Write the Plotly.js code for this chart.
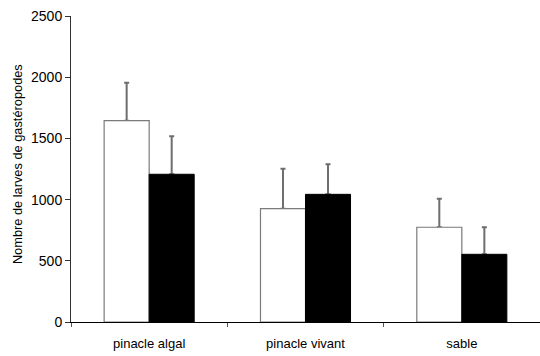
<!DOCTYPE html>
<html>
<head>
<meta charset="utf-8">
<script src="https://cdn.plot.ly/plotly-3.0.1.min.js"></script>
<style>
  html, body { margin: 0; padding: 0; background: #fff; }
  #chart { width: 540px; height: 356px; }
</style>
</head>
<body>
<div id="chart"></div>
<script>
// Habitat categories along the x axis
const habitats = ['pinacle algal', 'pinacle vivant', 'sable'];

// Open bars: mean counts and upper error
const openValues = [1645, 926, 774];
const openErrors = [310, 326, 233];

// Filled bars: mean counts and upper error
const filledValues = [1207, 1043, 553];
const filledErrors = [310, 245, 221];

const yTicks = [0, 500, 1000, 1500, 2000, 2500];

function errorSpec(errs) {
  return {
    type: 'data',
    symmetric: false,
    array: errs,
    arrayminus: errs.map(() => 0),
    color: '#6e6e6e',
    thickness: 2,
    width: 2.5
  };
}

// Error bars go on transparent bars drawn first, so the solid bars
// sit on top of the lower cap and only the upward whisker shows.
function whiskers(values, errs, group) {
  return {
    type: 'bar',
    x: habitats,
    y: values,
    offsetgroup: group,
    error_y: errorSpec(errs),
    marker: { color: 'rgba(0,0,0,0)', line: { width: 0 } },
    showlegend: false,
    hoverinfo: 'skip'
  };
}

const traces = [
  whiskers(openValues, openErrors, 'open'),
  whiskers(filledValues, filledErrors, 'filled'),
  {
    type: 'bar',
    x: habitats,
    y: openValues,
    offsetgroup: 'open',
    marker: { color: '#ffffff', line: { color: '#7a7a7a', width: 1.2 } },
    showlegend: false,
    hoverinfo: 'x+y'
  },
  {
    type: 'bar',
    x: habitats,
    y: filledValues,
    offsetgroup: 'filled',
    marker: { color: '#000000', line: { color: '#000000', width: 1 } },
    showlegend: false,
    hoverinfo: 'x+y'
  }
];

const layout = {
  width: 540,
  height: 356,
  margin: { l: 71, r: 0, t: 16, b: 34, pad: 0 },
  paper_bgcolor: '#ffffff',
  plot_bgcolor: '#ffffff',
  font: { family: 'Liberation Sans, Arial, sans-serif', color: '#000000', size: 12 },
  barmode: 'group',
  bargap: 0.424,
  bargroupgap: 0,
  showlegend: false,
  xaxis: {
    type: 'category',
    range: [-0.5, 2.5],
    showline: true,
    linecolor: '#000000',
    linewidth: 1,
    ticks: 'outside',
    tickson: 'boundaries',
    ticklen: 4,
    tickcolor: '#555555',
    tickwidth: 1,
    ticklabelstandoff: 9,
    showgrid: false,
    zeroline: false,
    tickfont: { size: 13 },
    fixedrange: true
  },
  yaxis: {
    range: [0, 2500],
    tickvals: yTicks,
    ticktext: yTicks.map(String),
    showline: true,
    linecolor: '#333333',
    linewidth: 1,
    ticks: 'outside',
    ticklen: 5,
    tickcolor: '#333333',
    tickwidth: 1,
    showgrid: false,
    zeroline: false,
    tickfont: { size: 14 },
    fixedrange: true
  },
  annotations: [
    {
      text: 'Nombre de larves de gastéropodes',
      textangle: -90,
      xref: 'paper',
      yref: 'paper',
      x: -0.1151,
      y: 0.516,
      xanchor: 'center',
      yanchor: 'middle',
      showarrow: false,
      font: { size: 12.8 }
    }
  ]
};

Plotly.newPlot('chart', traces, layout, { displayModeBar: false, staticPlot: true });
</script>
</body>
</html>
